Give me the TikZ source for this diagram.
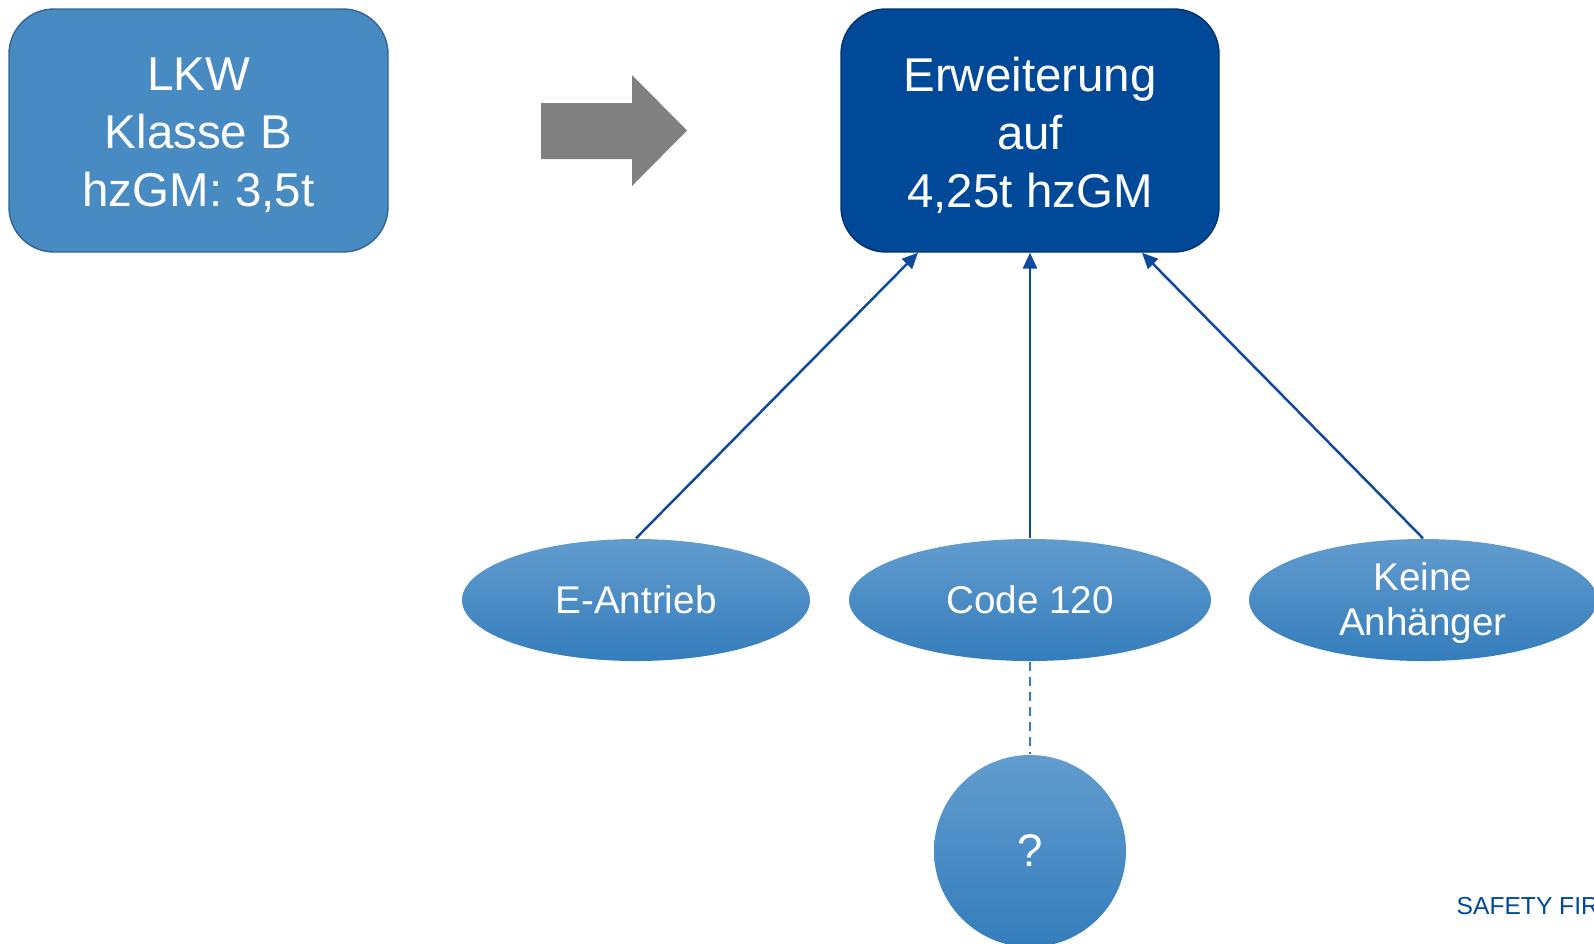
\documentclass[tikz,border=0pt]{standalone}
\usepackage{fontspec}
\setmainfont{Liberation Sans}
\usepackage{tikz}
\usetikzlibrary{shapes.geometric, arrows.meta, positioning, calc}
\definecolor{lightblue}{RGB}{72,139,195}
\definecolor{lightborder}{RGB}{52,100,150}
\definecolor{darkblue}{RGB}{0,73,152}
\definecolor{darkborder}{RGB}{0,50,110}
\definecolor{linkblue}{RGB}{14,74,156}
\definecolor{elltop}{RGB}{98,156,206}
\definecolor{ellbottom}{RGB}{52,125,188}
\tikzstyle{startbox} = [rectangle, rounded corners=0.45cm, minimum width=3.79cm, minimum height=2.43cm, draw=lightborder, fill=lightblue]
\tikzstyle{goalbox} = [rectangle, rounded corners=0.45cm, minimum width=3.78cm, minimum height=2.43cm, draw=darkborder, fill=darkblue]
\tikzstyle{boxtext} = [text=white, align=center, font=\fontsize{13.5}{16.5}\selectfont]
\tikzstyle{factor} = [ellipse, minimum width=3.48cm, minimum height=1.22cm, inner sep=0pt, align=center, top color=elltop, bottom color=ellbottom, text=white, font=\fontsize{11}{12.5}\selectfont]
\tikzstyle{factortext} = [text=white, align=center, font=\fontsize{11}{12.8}\selectfont]
\tikzstyle{openq} = [circle, minimum size=1.92cm, inner sep=0pt, top color=elltop, bottom color=ellbottom, text=white, font=\fontsize{13}{15}\selectfont]
\tikzstyle{arrow} = [line width=0.7pt, draw=linkblue, -{Triangle[length=4.5pt, width=4pt]}]

\begin{document}
\begin{tikzpicture}
    \useasboundingbox (0,0) rectangle (15.94,-9.43);
    \clip (0,0) rectangle (15.94,-9.43);

    \node (lkw) [startbox] at (1.985,-1.305) {};
    \node (lkwtext) [boxtext] at ($(lkw.center)+(0,-0.05)$) {LKW\\Klasse B\\hzGM: 3,5t};
    \node (goal) [goalbox] at (10.30,-1.305) {};
    \node (goaltext) [boxtext] at ($(goal.center)+(0,-0.05)$) {Erweiterung\\auf\\4,25t hzGM};

    % gray block arrow
    \fill [gray] (5.41,-1.03) -- (6.32,-1.03) -- (6.32,-0.75) -- (6.87,-1.305)
        -- (6.32,-1.86) -- (6.32,-1.59) -- (5.41,-1.59) -- cycle;

    \node (code) [factor, minimum width=3.62cm] at (10.30,-6.00) {Code 120};
    \node (eantrieb) [factor] at (6.36,-6.00) {E-Antrieb};
    \node (keine) [factor] at (14.23,-6.00) {};
    \node (keinetext) [factortext] at ($(keine.center)+(0,-0.03)$) {Keine\\Anhänger};
    \node (frage) [openq] at (10.30,-8.51) {?};

    \draw [arrow] (eantrieb.north) -- ($(goal.south)+(-1.12,0)$);
    \draw [arrow] (code.north) -- (goal.south);
    \draw [arrow] (keine.north) -- ($(goal.south)+(1.12,0)$);
    \draw [draw=ellbottom, line width=0.5pt, dash pattern=on 2.5pt off 1.8pt] (code.south) -- (frage.north);

    \node (safety) [anchor=west, text=darkblue, font=\fontsize{7}{8}\selectfont, inner sep=0pt] at (14.56,-9.06) {SAFETY FIR};
\end{tikzpicture}
\end{document}
